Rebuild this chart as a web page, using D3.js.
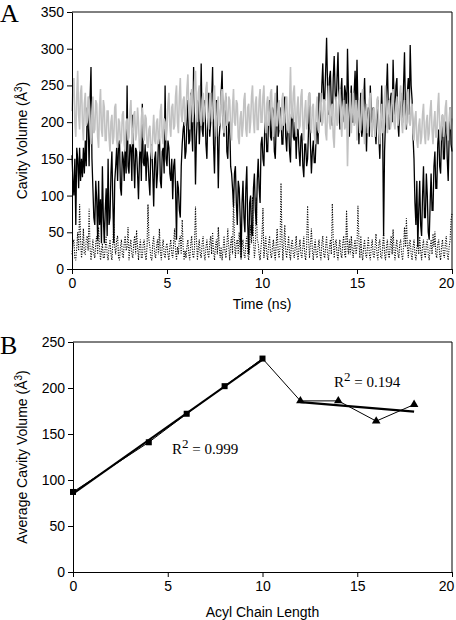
<!DOCTYPE html>
<html><head><meta charset="utf-8">
<script src="https://cdn.jsdelivr.net/npm/d3@7"></script>
<style>body{margin:0;background:#fff} svg{display:block}</style>
</head><body>
<svg id="c" width="456" height="620"></svg>
<script>
// ---------- Panel A data (sampled every 0.05 ns, 0..20 ns) ----------
const blackSeries = [
155,120,100,150,60,165,150,110,165,120,150,125,165,130,175,140,220,200,140,230,
275,150,110,70,60,120,95,40,120,60,95,35,140,70,35,80,110,45,150,60,
70,130,160,90,35,120,140,165,120,170,175,110,100,160,150,120,175,130,250,140,
130,170,165,120,210,150,110,165,160,130,95,150,175,120,225,145,140,170,120,160,
150,120,100,165,170,130,85,150,160,110,130,175,185,120,110,160,165,130,250,150,
140,175,165,130,120,150,95,140,150,110,40,120,110,80,70,140,170,190,200,150,
160,200,230,170,175,240,190,160,275,200,115,180,210,230,170,200,280,190,180,230,
220,170,150,210,240,180,200,230,275,170,130,200,230,190,110,180,200,240,270,200,
180,220,235,160,150,200,200,140,130,110,85,130,140,90,60,120,110,70,15,90,
120,70,50,110,140,60,20,90,100,50,45,110,130,80,60,120,150,110,90,170,
180,150,140,200,200,160,160,210,230,180,175,220,215,160,150,200,250,180,190,220,
210,170,170,220,235,180,160,200,200,160,145,210,220,180,175,200,150,190,190,160,
140,180,185,140,125,170,170,140,150,190,240,170,130,160,175,145,145,180,200,170,
240,210,200,250,280,230,230,270,315,250,210,260,270,220,195,260,290,240,220,260,
295,230,190,240,260,200,210,250,240,200,300,240,180,220,250,200,200,240,270,220,
285,220,170,210,240,180,190,230,260,200,160,210,220,180,250,210,180,220,210,190,
170,210,230,180,150,200,250,190,45,160,200,240,280,220,190,230,240,200,285,230,
210,250,260,200,180,230,240,200,200,250,295,220,190,240,260,210,305,250,230,180,
150,90,60,120,30,80,120,60,45,100,140,70,70,130,100,50,40,90,130,80,
80,140,160,110,110,170,190,140,130,180,210,150,150,200,200,150,120,180,220,170,
160];
const graySeries = [
215,245,260,200,180,235,270,210,190,240,250,200,175,225,240,195,200,235,230,190,
170,215,235,185,190,230,225,180,165,220,245,190,180,230,220,175,175,215,215,180,
160,200,210,170,180,220,225,175,165,205,200,170,175,210,215,170,160,200,205,175,
180,215,230,185,170,210,215,175,185,220,200,165,160,205,220,180,175,210,205,170,
165,190,195,160,150,185,210,175,170,200,205,170,180,215,225,180,170,205,200,175,
190,225,240,195,180,220,225,190,195,235,250,200,185,235,260,210,200,230,235,195,
210,245,265,215,190,235,245,200,215,255,270,220,200,240,250,205,195,230,240,200,
215,245,255,205,190,230,240,200,205,240,250,205,180,225,235,195,200,235,245,200,
185,225,240,195,200,235,230,190,175,220,245,200,195,230,225,180,170,205,215,180,
195,230,240,190,180,220,225,185,200,235,250,205,185,225,235,190,190,230,245,200,
200,235,250,200,185,225,235,195,205,240,245,200,180,225,240,195,195,225,230,190,
190,230,240,195,200,230,235,190,185,225,275,210,205,240,250,205,180,220,235,190,
195,235,245,195,175,215,230,190,200,235,240,195,185,220,225,185,170,215,235,190,
185,225,240,195,200,230,230,185,175,220,250,200,190,220,225,180,165,210,235,195,
200,235,245,200,180,220,230,190,195,225,140,200,220,240,185,215,240,195,200,230,
175,215,230,185,190,235,245,195,170,210,225,185,195,230,240,190,180,215,220,180,
200,230,235,185,170,210,225,185,190,235,250,200,185,220,230,190,200,235,245,200,
190,225,235,195,205,240,250,200,185,220,230,190,200,235,245,200,195,220,225,185,
175,205,215,175,165,195,205,170,180,210,225,185,170,200,210,175,185,215,230,190,
170,200,215,180,180,220,240,195,175,200,210,180,190,220,230,185,175,205,220,190,
205];
const dottedSeries = [
20,35,40,15,12,30,50,25,88,40,15,30,55,20,20,40,45,25,82,30,
12,25,40,20,15,35,45,20,57,30,12,25,35,15,15,30,45,20,12,30,
40,20,12,35,62,30,20,40,45,15,12,30,40,20,15,35,45,25,30,57,
12,30,40,20,15,35,45,20,53,30,12,30,40,15,15,35,40,20,12,30,
88,40,30,15,12,35,45,20,15,30,40,20,55,25,12,30,40,20,15,30,
35,20,12,30,40,20,15,35,55,25,12,30,20,40,45,20,67,30,12,25,
15,30,40,20,12,35,45,20,15,30,85,40,12,30,40,20,15,35,45,20,
12,30,40,20,15,35,45,20,50,25,12,30,40,20,57,30,15,30,12,25,
45,25,15,30,55,30,12,35,45,20,98,40,15,35,40,20,50,25,12,30,
40,20,15,35,45,20,12,30,60,35,98,40,15,30,97,40,35,20,12,30,
45,83,15,30,45,20,12,35,45,20,15,30,40,20,12,35,55,25,15,30,
117,40,12,35,60,25,15,30,45,20,12,35,40,20,15,30,45,20,12,30,
40,20,15,30,45,20,12,30,86,40,15,35,55,25,12,30,40,20,15,30,
40,20,12,35,45,20,15,30,45,20,12,30,40,20,89,40,15,35,40,20,
12,30,40,20,15,35,45,20,15,80,35,20,40,20,45,25,15,30,40,20,
30,86,40,15,45,20,12,30,40,20,15,30,44,20,12,30,40,20,15,30,
48,20,12,35,40,15,15,30,49,20,12,30,40,20,15,35,45,20,54,25,
12,30,40,20,15,35,40,20,12,30,57,30,69,30,15,35,40,20,12,30,
40,20,12,30,35,20,44,25,12,30,40,20,15,35,40,20,12,30,40,20,
48,30,51,20,15,35,40,20,12,30,40,20,15,35,45,20,12,30,40,67,
75];
const timeStartNs = 0, timeEndNs = 20;
const timeTicks = [0,5,10,15,20];
const volumeTicksA = [0,50,100,150,200,250,300,350];

// ---------- Panel B data ----------
const shortChain = [0,4,6,8,10];
const shortVolume = [87,141,172,202,232];
const longChain = [12,14,16,18];
const longVolume = [186,186,164,182];
const chainTicks = [0,5,10,15,20];
const volumeTicksB = [0,50,100,150,200,250];
const r2Labels = ["0.999","0.194"];

const svg = d3.select("#c");
const sans = "'Liberation Sans', Arial, sans-serif";
const serif = "'Liberation Serif', 'Times New Roman', serif";

function styleAxis(g){
  g.selectAll("text").attr("font-family", sans).attr("font-size", 14).attr("fill","#000");
  g.selectAll("line").attr("stroke","#000");
  g.select(".domain").attr("stroke","#000");
}
function nudgeLast(g){
  g.selectAll(".tick").filter(d=>d===20).select("text").attr("dx",-6);
}

// ================= Panel A =================
const A = {l:72, r:452, t:12, b:269};
const xA = d3.scaleLinear().domain([timeStartNs,timeEndNs]).range([A.l, A.r]);
const yA = d3.scaleLinear().domain([0,350]).range([A.b, A.t]);
function lineFor(arr){
  const step = (timeEndNs - timeStartNs)/(arr.length-1);
  return d3.line().x((d,i)=>xA(timeStartNs + i*step)).y(d=>yA(d))(arr);
}

const gA = svg.append("g");
gA.append("path").attr("d", lineFor(blackSeries))
  .attr("fill","none").attr("stroke","#000").attr("stroke-width",1.3);
gA.append("path").attr("d", lineFor(graySeries))
  .attr("fill","none").attr("stroke","#c2c2c2").attr("stroke-width",1.6);
gA.append("path").attr("d", lineFor(dottedSeries))
  .attr("fill","none").attr("stroke","#000").attr("stroke-width",1.1)
  .attr("stroke-dasharray","1.1,1.4");

// frame top/right
gA.append("path").attr("d", `M${A.l},${A.t}H${A.r}V${A.b}`).attr("fill","none").attr("stroke","#000");

gA.append("g").attr("transform",`translate(0,${A.b})`)
  .call(d3.axisBottom(xA).tickValues(timeTicks).tickSize(5).tickSizeOuter(0).tickPadding(4))
  .call(styleAxis).call(nudgeLast);
gA.append("g").attr("transform",`translate(${A.l},0)`)
  .call(d3.axisLeft(yA).tickValues(volumeTicksA).tickSize(5).tickSizeOuter(0).tickPadding(3))
  .call(styleAxis);

gA.append("text").attr("x",(A.l+A.r)/2).attr("y",309).attr("text-anchor","middle")
  .attr("font-family",sans).attr("font-size",14).text("Time (ns)");
const ylA = gA.append("text").attr("transform",`translate(27,${(A.t+A.b)/2}) rotate(-90)`)
  .attr("text-anchor","middle").attr("font-family",sans).attr("font-size",14);
ylA.append("tspan").text("Cavity Volume (Å");
ylA.append("tspan").attr("dy",-5).attr("font-size",10).text("3");
ylA.append("tspan").attr("dy",5).text(")");
svg.append("text").attr("x",0).attr("y",22).attr("font-family",serif).attr("font-size",26).text("A");

// ================= Panel B =================
const B = {l:73, r:452, t:342, b:572};
const xB = d3.scaleLinear().domain([0,20]).range([B.l, B.r]);
const yB = d3.scaleLinear().domain([0,250]).range([B.b, B.t]);
const gB = svg.append("g");

gB.append("path").attr("d", `M${B.l},${B.t}H${B.r}V${B.b}`).attr("fill","none").attr("stroke","#000");

const allChain = shortChain.concat(longChain);
const allVolume = shortVolume.concat(longVolume);
gB.append("path").datum(allChain.map((c,i)=>[c, allVolume[i]]))
  .attr("d", d3.line().x(d=>xB(d[0])).y(d=>yB(d[1])))
  .attr("fill","none").attr("stroke","#000").attr("stroke-width",1);

function fit(xs, ys){
  const mx=d3.mean(xs), my=d3.mean(ys);
  const sxy=d3.sum(xs.map((x,i)=>(x-mx)*(ys[i]-my)));
  const sxx=d3.sum(xs.map(x=>(x-mx)*(x-mx)));
  const m=sxy/sxx; return [m, my-m*mx];
}
[[shortChain, shortVolume],[longChain, longVolume]].forEach(([xs,ys])=>{
  const [m,b]=fit(xs,ys);
  const x0=d3.min(xs), x1=d3.max(xs);
  gB.append("line").attr("x1",xB(x0)).attr("y1",yB(m*x0+b)).attr("x2",xB(x1)).attr("y2",yB(m*x1+b))
    .attr("stroke","#000").attr("stroke-width",2.2);
});

gB.selectAll("rect.sq").data(shortChain).join("rect").attr("class","sq")
  .attr("x",(d)=>xB(d)-3).attr("y",(d,i)=>yB(shortVolume[i])-3).attr("width",6).attr("height",6).attr("fill","#000");
const tri = d3.symbol().type(d3.symbolTriangle).size(32);
gB.selectAll("path.tri").data(longChain).join("path").attr("class","tri")
  .attr("transform",(d,i)=>`translate(${xB(d)},${yB(longVolume[i])})`).attr("d",tri).attr("fill","#000");

gB.append("g").attr("transform",`translate(0,${B.b})`)
  .call(d3.axisBottom(xB).tickValues(chainTicks).tickSize(5).tickSizeOuter(0).tickPadding(4))
  .call(styleAxis).call(nudgeLast);
gB.append("g").attr("transform",`translate(${B.l},0)`)
  .call(d3.axisLeft(yB).tickValues(volumeTicksB).tickSize(5).tickSizeOuter(0).tickPadding(3))
  .call(styleAxis);

gB.append("text").attr("x",(B.l+B.r)/2).attr("y",617).attr("text-anchor","middle")
  .attr("font-family",sans).attr("font-size",14).text("Acyl Chain Length");
const ylB = gB.append("text").attr("transform",`translate(27,${(B.t+B.b)/2}) rotate(-90)`)
  .attr("text-anchor","middle").attr("font-family",sans).attr("font-size",14);
ylB.append("tspan").text("Average Cavity Volume (Å");
ylB.append("tspan").attr("dy",-5).attr("font-size",10).text("3");
ylB.append("tspan").attr("dy",5).text(")");
svg.append("text").attr("x",0).attr("y",354).attr("font-family",serif).attr("font-size",26).text("B");

function r2(x,y,val){
  const t = gB.append("text").attr("x",x).attr("y",y).attr("font-family",serif).attr("font-size",15);
  t.append("tspan").text("R");
  t.append("tspan").attr("dy",-6).attr("font-size",13).text("2");
  t.append("tspan").attr("dy",6).text(" = " + val);
}
r2(172, 454, r2Labels[0]);
r2(334, 387, r2Labels[1]);
</script>
</body></html>
